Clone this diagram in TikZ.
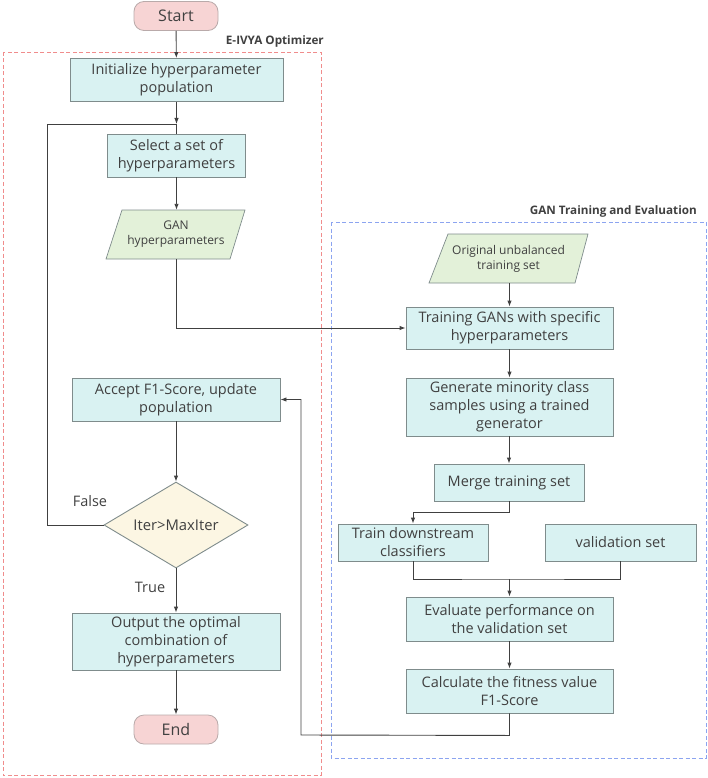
\documentclass[tikz,border=0pt]{standalone}
\usepackage{fontspec}
\setmainfont{Open Sans}
\usetikzlibrary{arrows.meta,shapes.geometric}
\definecolor{boxfill}{HTML}{D9F2F2}
\definecolor{boxline}{HTML}{7F8C8C}
\definecolor{iofill}{HTML}{E3F1D9}
\definecolor{decfill}{HTML}{FCF6E3}
\definecolor{termfill}{HTML}{F7D4D4}
\definecolor{termline}{HTML}{B9AAAA}
\definecolor{txt}{HTML}{404040}
\definecolor{redd}{HTML}{F08C8C}
\definecolor{blued}{HTML}{8CA4F0}
\tikzset{
  procbox/.style={draw=boxline, line width=0.9pt, fill=boxfill, inner sep=0pt, align=center,
    text=txt, font=\fontsize{14.5}{18}\selectfont},
  termbox/.style={draw=termline, line width=0.8pt, fill=termfill, rounded corners=10pt, inner sep=0pt,
    text=txt, font=\fontsize{16}{19}\selectfont, minimum width=84pt, minimum height=29pt},
  iotext/.style={inner sep=0pt, align=center, text=txt, font=\fontsize{12}{15}\selectfont},
  iofig/.style={draw=boxline, line width=0.7pt, fill=iofill},
  decbox/.style={shape=diamond, draw=boxline, line width=0.9pt, fill=decfill, inner sep=0pt,
    minimum width=144pt, minimum height=86pt, text=txt, font=\fontsize{14.8}{17}\selectfont},
  conn/.style={draw=txt, line width=0.9pt},
  arr/.style={conn, -{Latex[length=6pt,width=4.5pt]}},
  grp/.style={dashed, dash pattern=on 4pt off 2.5pt, line width=0.9pt},
  grplabel/.style={font=\fontsize{11.7}{14}\selectfont\bfseries, text=txt, inner sep=0pt},
  edgelabel/.style={font=\fontsize{14.5}{16}\selectfont, text=txt, inner sep=0pt}
}
\begin{document}
\begin{tikzpicture}[x=1pt,y=-1pt]
\useasboundingbox (0,0) rectangle (708,778);
% group frames
\draw[grp, draw=redd] (3,52) rectangle (321,775);
\draw[grp, draw=blued] (331,222) rectangle (706,758);
\node[grplabel, anchor=east] (lblA) at (324,41) {E-IVYA Optimizer};
\node[grplabel, anchor=east] (lblB) at (697,211) {GAN Training and Evaluation};

% left column
\node[termbox] (start) at (176,16) {Start};
\node[procbox, minimum width=213pt, minimum height=43pt] (init) at (176.5,80) {Initialize hyperparameter\\population};
\coordinate (j) at (176.5,124);
\node[procbox, minimum width=138pt, minimum height=43pt] (select) at (176.5,155.5) {Select a set of\\hyperparameters};
\fill[iofig] (122,210) -- (245,210) -- (230,259) -- (106,259) -- cycle;
\node[iotext, minimum width=139pt, minimum height=49pt] (ganhp) at (176,234.5) {GAN\\hyperparameters};
\node[procbox, minimum width=208pt, minimum height=43pt] (accept) at (176,399.5) {Accept F1-Score, update\\population};
\node[decbox, aspect=1.67] (dec) at (176,525) {Iter>MaxIter};
\node[procbox, minimum width=208pt, minimum height=57pt] (output) at (176,641.5) {Output the optimal\\combination of\\hyperparameters};
\node[termbox] (end) at (176,729.5) {End};

% right column
\fill[iofig] (448,234) -- (588,234) -- (575,283) -- (429,283) -- cycle;
\node[iotext, minimum width=159pt, minimum height=49pt] (orig) at (508.5,258.5) {Original unbalanced\\training set};
\node[procbox, minimum width=207pt, minimum height=42pt] (train) at (509.5,328) {Training GANs with specific\\hyperparameters};
\node[procbox, minimum width=207pt, minimum height=58pt] (gen) at (509.5,407) {Generate minority class\\samples using a trained\\generator};
\node[procbox, minimum width=150pt, minimum height=37pt] (merge) at (509,482.5) {Merge training set};
\node[procbox, minimum width=150pt, minimum height=37pt] (tds) at (413,542.5) {Train downstream\\classifiers};
\node[procbox, minimum width=151pt, minimum height=37pt] (val) at (620.5,542.5) {validation set};
\node[procbox, minimum width=207pt, minimum height=44pt] (eval) at (509.5,619) {Evaluate performance on\\the validation set};
\node[procbox, minimum width=207pt, minimum height=44pt] (calc) at (509.5,691) {Calculate the fitness value\\F1-Score};
\coordinate (jn) at (509.5,579);

% connectors
\draw[arr] (start) -- (init);
\draw[arr] (init) -- (j);
\draw[conn] (j) -- (select);
\draw[arr] (select) -- (select.south |- ganhp.north);
\draw[arr] (ganhp.south) |- (train.west);
\draw[arr] (orig.south -| train.north) -- (train.north);
\draw[arr] (train) -- (gen);
\draw[arr] (gen.south -| merge.north) -- (merge.north);
\draw[arr] (merge.south) -- ++(0,11) -| (tds.north);
\draw[conn] (tds.south) |- (jn) -| (val.south);
\draw[arr] (jn) -- (eval.north);
\draw[arr] (eval) -- (calc);
\draw[arr] (calc.south) -- ++(0,22) -- (301,735) |- (accept.east);
\draw[arr] (accept) -- (dec);
\draw[conn] (dec.west) -| (47,124) -- (j);
\draw[arr] (dec.south) -- (output.north);
\draw[arr] (output) -- (end);

% labels
\node[edgelabel] (lfalse) at (90,501) {False};
\node[edgelabel] (ltrue) at (150,587) {True};
\end{tikzpicture}
\end{document}
